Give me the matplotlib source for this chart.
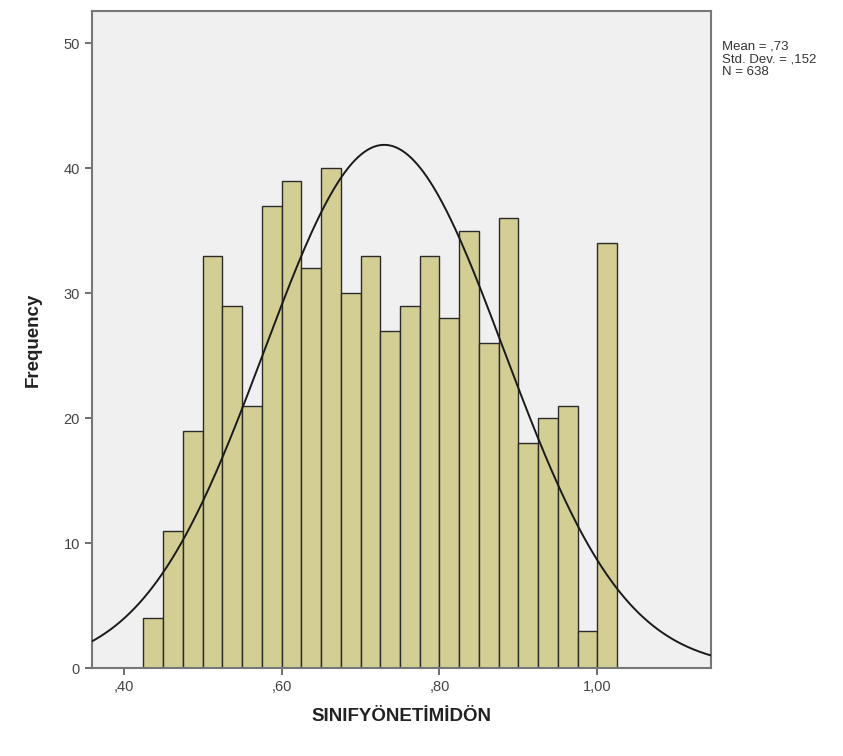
import numpy as np
import matplotlib
matplotlib.use("Agg")
import matplotlib.pyplot as plt

plt.rcParams['font.family'] = ['Liberation Sans', 'DejaVu Sans']

# Data
bin_edges_start = 0.425
bin_width = 0.025
counts = [4, 11, 19, 33, 29, 21, 37, 39, 32, 40, 30, 33, 27, 29, 33, 28, 35, 26, 36, 18, 20, 21, 3, 34]
mean_val = 0.73
std_val = 0.152
n_val = 638
x_ticks = [0.40, 0.60, 0.80, 1.00]
x_tick_labels = [",40", ",60", ",80", "1,00"]
y_ticks = [0, 10, 20, 30, 40, 50]

fig = plt.figure(figsize=(8.43, 7.56), dpi=100)
ax = fig.add_axes([0.109, 0.116, 0.734, 0.870])
ax.set_facecolor("#F0F0F0")

lefts = bin_edges_start + bin_width * np.arange(len(counts))
ax.bar(lefts, counts, width=bin_width, align="edge", color="#D3CE94",
       edgecolor="#2b2b2b", linewidth=1.0, zorder=2)

xs = np.linspace(0.36, 1.15, 400)
ys = n_val * bin_width / (std_val * np.sqrt(2 * np.pi)) * np.exp(-0.5 * ((xs - mean_val) / std_val) ** 2)
ax.plot(xs, ys, color="#1a1a1a", linewidth=1.4, zorder=3)

ax.set_xlim(0.3597, 1.1435)
ax.set_ylim(0, 52.6)
ax.set_xticks(x_ticks)
ax.set_xticklabels(x_tick_labels)
ax.set_yticks(y_ticks)
ax.tick_params(axis="both", direction="out", length=5, width=1.2, color="#555555",
               labelsize=10.5, labelcolor="#444444")
for s in ax.spines.values():
    s.set_color("#777777")
    s.set_linewidth(1.5)

ax.set_xlabel("SINIFYÖNETİMİDÖN", fontsize=13.5, fontweight="bold", color="#222222", labelpad=10)
ax.set_ylabel("Frequency", fontsize=13.5, fontweight="bold", color="#222222", labelpad=16)

fig.text(0.857, 0.947, "Mean = ,73\nStd. Dev. = ,152\nN = 638", fontsize=9.5,
         color="#333333", va="top", ha="left", linespacing=1.12)

fig.savefig("out.png", dpi=100, facecolor="white")
